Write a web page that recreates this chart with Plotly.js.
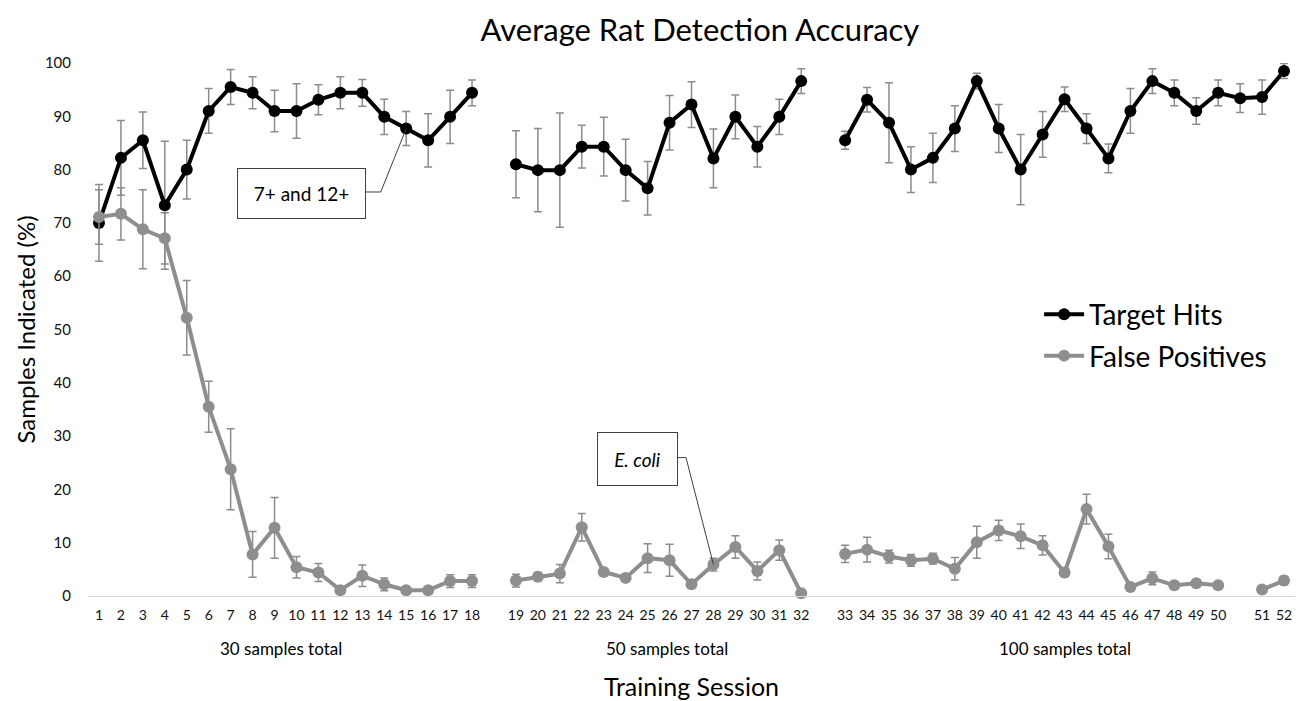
<!DOCTYPE html>
<html>
<head>
<meta charset="utf-8">
<script src="https://cdn.plot.ly/plotly-3.0.1.min.js"></script>
<style>
  html, body { margin: 0; padding: 0; background: #ffffff; }
  #chart { width: 1303px; height: 701px; }
</style>
</head>
<body>
<div id="chart"></div>
<script>
// Session labels (blank strings are the gaps between sample-size blocks)
const sessionLabels = [
  '1','2','3','4','5','6','7','8','9','10','11','12','13','14','15','16','17','18','',
  '19','20','21','22','23','24','25','26','27','28','29','30','31','32','',
  '33','34','35','36','37','38','39','40','41','42','43','44','45','46','47','48','49','50','',
  '51','52'
];

// Target Hits (%) and standard error
const targetHits = [
  70.0, 82.2, 85.5, 73.3, 80.0, 91.0, 95.5, 94.4, 91.0, 91.0, 93.1, 94.4, 94.4, 89.9, 87.7, 85.5, 89.9, 94.4, null,
  81.0, 79.9, 79.9, 84.3, 84.3, 79.9, 76.5, 88.8, 92.2, 82.1, 89.9, 84.3, 89.9, 96.6, null,
  85.5, 93.1, 88.8, 80.0, 82.2, 87.7, 96.6, 87.7, 80.0, 86.6, 93.2, 87.7, 82.1, 91.0, 96.6, 94.4, 91.0, 94.4, 93.4,
  93.6, 98.5
];
const targetErr = [
  7.2, 7.0, 5.3, 12.0, 5.5, 4.2, 3.3, 3.0, 3.9, 5.1, 2.8, 3.0, 2.5, 3.3, 3.2, 5.0, 5.0, 2.4, null,
  6.3, 7.8, 10.7, 4.0, 5.5, 5.8, 5.0, 5.1, 4.3, 5.5, 4.1, 3.8, 3.3, 2.3, null,
  1.7, 2.3, 7.5, 4.3, 4.6, 4.3, 1.5, 4.5, 6.6, 4.3, 2.3, 2.8, 2.7, 4.2, 2.3, 2.4, 2.5, 2.4, 2.7,
  3.2, 1.4
];

// False Positives (%) and standard error
const falsePositives = [
  71.1, 71.7, 68.8, 67.1, 52.2, 35.5, 23.8, 7.8, 12.8, 5.4, 4.4, 1.1, 3.8, 2.2, 1.1, 1.1, 2.8, 2.8, null,
  2.9, 3.6, 4.2, 12.9, 4.5, 3.4, 7.1, 6.7, 2.2, 5.9, 9.2, 4.7, 8.6, 0.5, null,
  7.9, 8.7, 7.4, 6.7, 7.0, 5.1, 10.1, 12.3, 11.2, 9.5, 4.4, 16.3, 9.3, 1.7, 3.3, 2.0, 2.4, 2.0, null,
  1.2, 2.9
];
const falsePosErr = [
  5.1, 4.9, 7.4, 4.8, 7.0, 4.8, 7.6, 4.3, 5.7, 2.0, 1.7, 0.4, 2.0, 1.2, 0.4, 0.4, 1.2, 1.2, null,
  1.2, 0.8, 1.7, 2.6, 0.5, 0.7, 2.7, 3.0, 0.4, 1.2, 2.1, 1.7, 1.9, 0.3, null,
  1.6, 2.3, 1.2, 1.1, 1.0, 2.1, 3.0, 1.9, 2.3, 1.8, 0.8, 2.8, 2.3, 0.6, 1.2, 0.5, 0.5, 0.5, null,
  0.5, 0.8
];

const groupLabels = ['30 samples total', '50 samples total', '100 samples total'];
const groupCenters = [8.3, 25.9, 44.0];

const slots = sessionLabels.map((_, i) => i);
const FONT = 'Lato, "Open Sans", sans-serif';
const GRAY = '#8e8e8e';
const ERRCOL = '#8c8c8c';

const traces = [
  {
    name: 'Target Hits', x: slots, y: targetHits, type: 'scatter', mode: 'lines+markers',
    connectgaps: false, legendgroup: 'a',
    line: { color: '#000000', width: 4 },
    marker: { color: '#000000', size: 12 },
    error_y: { type: 'data', array: targetErr, visible: true, color: ERRCOL, thickness: 1.5, width: 4 },
    cliponaxis: false
  },
  {
    name: 'False Positives', x: slots, y: falsePositives, type: 'scatter', mode: 'lines+markers',
    connectgaps: false, legendgroup: 'b',
    line: { color: GRAY, width: 4 },
    marker: { color: GRAY, size: 12 },
    error_y: { type: 'data', array: falsePosErr, visible: true, color: ERRCOL, thickness: 1.5, width: 4 },
    cliponaxis: false
  }
];

const annotations = groupLabels.map((t, i) => ({
  text: t, x: groupCenters[i], xref: 'x', y: -0.098, yref: 'paper',
  xanchor: 'center', yanchor: 'middle', showarrow: false,
  font: { family: FONT, size: 17, color: '#000' }
}));

annotations.push({
  text: '7+ and 12+', x: 9.22, y: 75.6, xref: 'x', yref: 'y', showarrow: false,
  xanchor: 'center', yanchor: 'middle', width: 127, height: 49,
  bgcolor: '#ffffff', bordercolor: '#3f3f3f', borderwidth: 1, borderpad: 0,
  font: { family: FONT, size: 19, color: '#000' }
});
annotations.push({
  text: '<i>E. coli</i>', x: 24.52, y: 25.7, xref: 'x', yref: 'y', showarrow: false,
  xanchor: 'center', yanchor: 'middle', width: 79, height: 52,
  bgcolor: '#ffffff', bordercolor: '#3f3f3f', borderwidth: 1, borderpad: 0,
  font: { family: FONT, size: 19, color: '#000' }
});

const lineStyle = { color: '#3f3f3f', width: 1 };
const shapes = [
  { type: 'line', xref: 'x', yref: 'y', x0: 12.17, y0: 75.8, x1: 12.84, y1: 75.8, line: lineStyle },
  { type: 'line', xref: 'x', yref: 'y', x0: 12.84, y0: 75.8, x1: 14, y1: targetHits[14], line: lineStyle },
  { type: 'line', xref: 'x', yref: 'y', x0: 26.36, y0: 25.97, x1: 26.75, y1: 25.97, line: lineStyle },
  { type: 'line', xref: 'x', yref: 'y', x0: 26.75, y0: 25.97, x1: 28, y1: falsePositives[28], line: lineStyle }
];

const layout = {
  width: 1303, height: 701,
  paper_bgcolor: '#ffffff', plot_bgcolor: '#ffffff',
  margin: { l: 88, r: 8, t: 63, b: 105 },
  font: { family: FONT, color: '#000' },
  title: {
    text: 'Average Rat Detection Accuracy',
    font: { family: FONT, size: 31, color: '#000' },
    x: 0.507, xref: 'paper', xanchor: 'center',
    y: 0.957, yref: 'container', yanchor: 'middle'
  },
  xaxis: {
    range: [-0.5, 54.5], tickmode: 'array', tickvals: slots, ticktext: sessionLabels,
    showgrid: false, zeroline: false, showline: true, linecolor: '#d9d9d9', linewidth: 1,
    ticks: '', tickfont: { family: FONT, size: 14, color: '#111' }, ticklabelstandoff: 6,
    automargin: false,
    title: { text: 'Training Session', font: { family: FONT, size: 25, color: '#000' }, standoff: 58 }
  },
  yaxis: {
    range: [0, 100], dtick: 10, tick0: 0,
    showgrid: false, zeroline: false, showline: false, ticks: '',
    tickfont: { family: FONT, size: 15, color: '#111' }, ticklabelstandoff: 16,
    automargin: false,
    title: { text: 'Samples Indicated (%)', font: { family: FONT, size: 24, color: '#000' }, standoff: 2 }
  },
  showlegend: true,
  legend: {
    x: 0.788, y: 0.575, xanchor: 'left', yanchor: 'top',
    bgcolor: 'rgba(0,0,0,0)', borderwidth: 0,
    font: { family: FONT, size: 28, color: '#000' },
    tracegroupgap: 2, itemwidth: 40
  },
  annotations: annotations,
  shapes: shapes
};

Plotly.newPlot('chart', traces, layout, { displayModeBar: false, staticPlot: true });
</script>
</body>
</html>
